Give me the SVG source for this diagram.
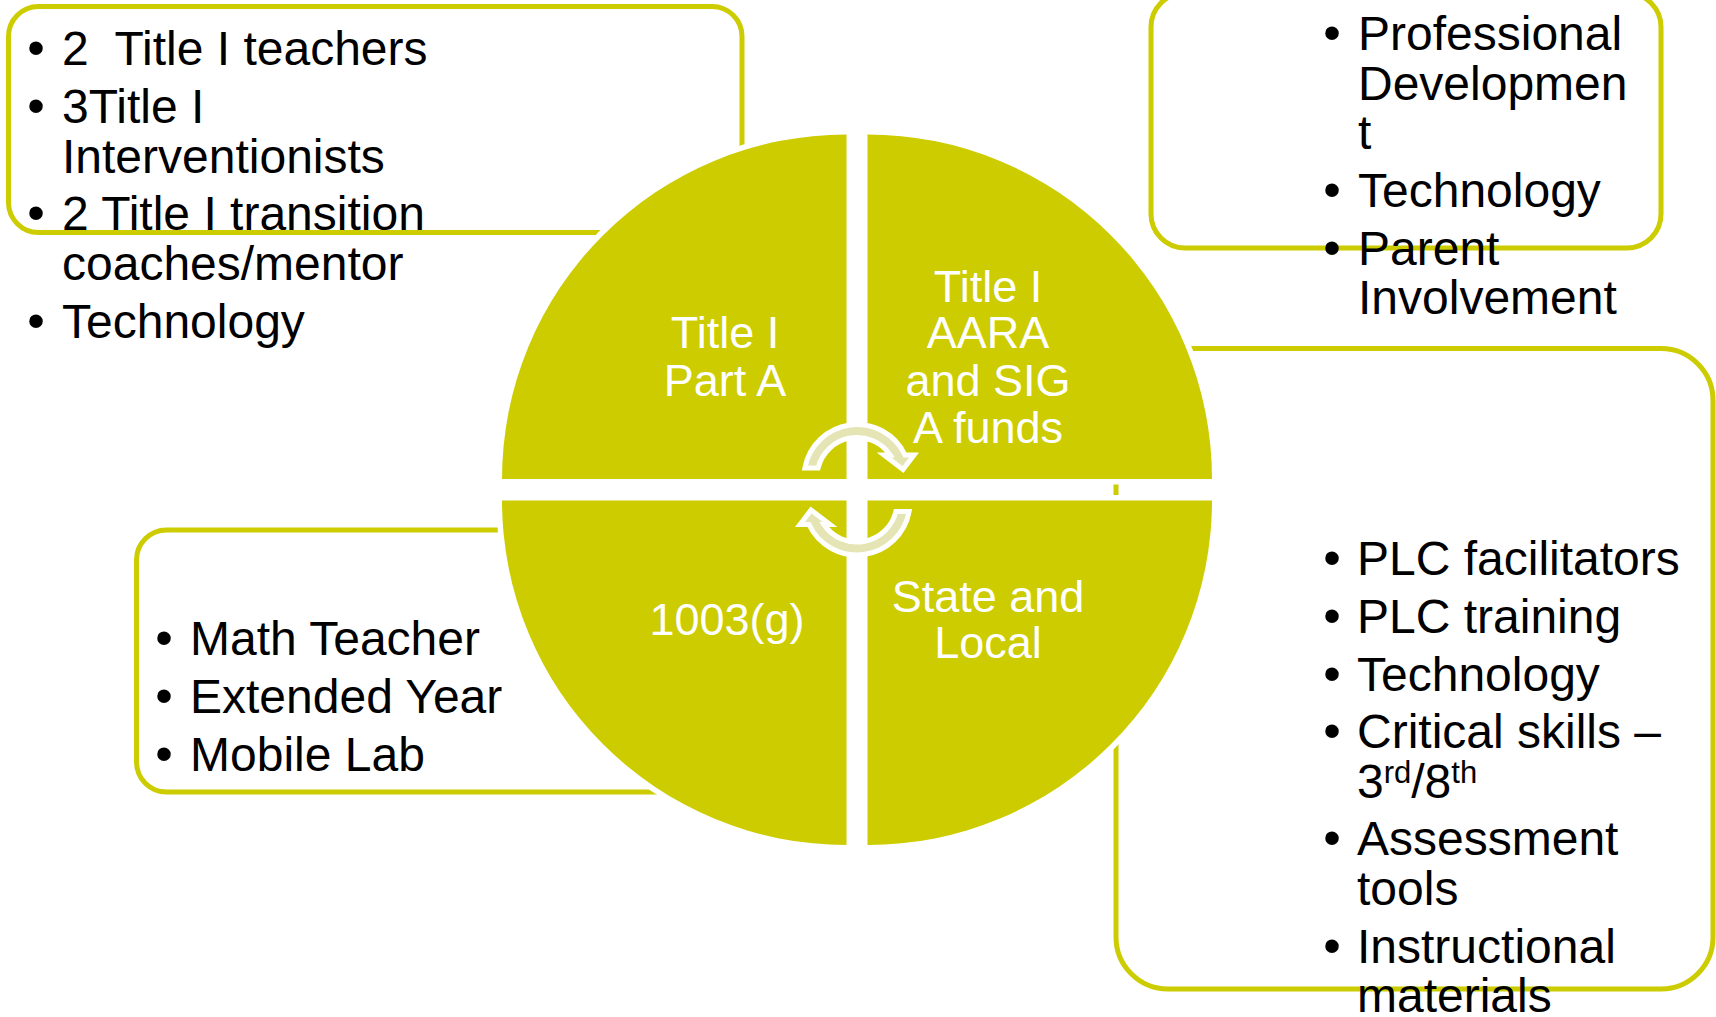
<svg xmlns="http://www.w3.org/2000/svg" width="1716" height="1017" viewBox="0 0 1716 1017">
<defs>
<style>
.box{fill:#fff;stroke:#CCCC00;stroke-width:5}
.bt{font-family:"Liberation Sans",Arial,sans-serif;font-size:48px;fill:#000}
.bul{font-family:"Liberation Sans",Arial,sans-serif;font-size:50px;fill:#000;text-anchor:middle}
.q{fill:#CCCC00;stroke:#fff;stroke-width:11;paint-order:stroke}
.qt{font-family:"Liberation Sans",Arial,sans-serif;font-size:45px;fill:#fff;text-anchor:middle}
.arr{fill:#E4E4B4;stroke:#fff;stroke-width:5;stroke-linejoin:miter}
</style>
<path id="cyc" d="M804.9,468 A53,53 0 0 1 905,455 L914,455 L903,469.5 L884,455 L890.1,455 A40,40 0 0 0 818.1,468 Z"/>
</defs>
<rect width="1716" height="1017" fill="#fff"/>

<g id="box-title1">
<rect class="box" x="8.5" y="6.5" width="733.5" height="226" rx="30"/>
<text class="bul" x="36" y="65">•</text>
<text class="bt" x="62" y="65" xml:space="preserve">2  Title I teachers</text>
<text class="bul" x="36" y="122.5">•</text>
<text class="bt" x="62" y="122.5">3Title I</text>
<text class="bt" x="62" y="172.5">Interventionists</text>
<text class="bul" x="36" y="230">•</text>
<text class="bt" x="62" y="230">2 Title I transition</text>
<text class="bt" x="62" y="279.5">coaches/mentor</text>
<text class="bul" x="36" y="337.5">•</text>
<text class="bt" x="62" y="337.5">Technology</text>
</g>

<g id="box-arra">
<rect class="box" x="1151" y="-7" width="510" height="255" rx="34"/>
<text class="bul" x="1332" y="50">•</text>
<text class="bt" x="1358" y="50">Professional</text>
<text class="bt" x="1358" y="99.5">Developmen</text>
<text class="bt" x="1358" y="149">t</text>
<text class="bul" x="1332" y="207">•</text>
<text class="bt" x="1358" y="207">Technology</text>
<text class="bul" x="1332" y="265">•</text>
<text class="bt" x="1358" y="265">Parent</text>
<text class="bt" x="1358" y="314">Involvement</text>
</g>

<g id="box-state">
<rect class="box" x="1116" y="348.5" width="597" height="640.5" rx="52"/>
<text class="bul" x="1332" y="575">•</text>
<text class="bt" x="1357" y="575">PLC facilitators</text>
<text class="bul" x="1332" y="632.7">•</text>
<text class="bt" x="1357" y="632.7">PLC training</text>
<text class="bul" x="1332" y="690.5">•</text>
<text class="bt" x="1357" y="690.5">Technology</text>
<text class="bul" x="1332" y="748">•</text>
<text class="bt" x="1357" y="748">Critical skills –</text>
<text class="bt" x="1357" y="797.5">3<tspan font-size="31" dy="-15">rd</tspan><tspan dy="15">/8</tspan><tspan font-size="31" dy="-15">th</tspan></text>
<text class="bul" x="1332" y="855">•</text>
<text class="bt" x="1357" y="855">Assessment</text>
<text class="bt" x="1357" y="904.5">tools</text>
<text class="bul" x="1332" y="963">•</text>
<text class="bt" x="1357" y="963">Instructional</text>
<text class="bt" x="1357" y="1012">materials</text>
</g>

<g id="box-1003g">
<rect class="box" x="136.5" y="530" width="620" height="262" rx="30"/>
<text class="bul" x="164" y="655">•</text>
<text class="bt" x="190" y="655">Math Teacher</text>
<text class="bul" x="164" y="712.7">•</text>
<text class="bt" x="190" y="712.7">Extended Year</text>
<text class="bul" x="164" y="770.5">•</text>
<text class="bt" x="190" y="770.5">Mobile Lab</text>
</g>

<g id="q-title1">
<path class="q" d="M846.5,479 L502,479 A344.5,344.5 0 0 1 846.5,134.5 Z"/>
<text class="qt" x="725" y="348.3">Title I</text>
<text class="qt" x="725" y="395.7">Part A</text>
</g>

<g id="q-arra">
<path class="q" d="M867.5,479 L867.5,134.5 A344.5,344.5 0 0 1 1212,479 Z"/>
<text class="qt" x="988" y="301.7">Title I</text>
<text class="qt" x="988" y="348.3">AARA</text>
<text class="qt" x="988" y="395.7">and SIG</text>
<text class="qt" x="988" y="442.7">A funds</text>
</g>

<g id="q-1003g">
<path class="q" d="M846.5,500.5 L846.5,845 A344.5,344.5 0 0 1 502,500.5 Z"/>
<text class="qt" x="727" y="635">1003(g)</text>
</g>

<g id="q-state">
<path class="q" d="M867.5,500.5 L1212,500.5 A344.5,344.5 0 0 1 867.5,845 Z"/>
<text class="qt" x="988" y="611.7">State and</text>
<text class="qt" x="988" y="658.3">Local</text>
</g>

<g id="connectors">
<use href="#cyc" class="arr"/>
<use href="#cyc" class="arr" transform="rotate(180 857 489.75)"/>
</g>
</svg>
